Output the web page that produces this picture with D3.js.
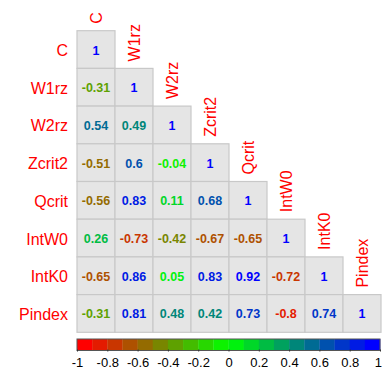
<!DOCTYPE html>
<html>
<head>
<meta charset="utf-8">
<script src="https://cdn.jsdelivr.net/npm/d3@7"></script>
<style>
  body { margin: 0; background: #fff; }
  text { font-family: "Liberation Sans", Arial, sans-serif; }
</style>
</head>
<body>
<div id="chart"></div>
<script>
var vars = ["C", "W1rz", "W2rz", "Zcrit2", "Qcrit", "IntW0", "IntK0", "Pindex"];

// lower triangle, row by row
var corrC      = [1];
var corrW1rz   = [-0.31, 1];
var corrW2rz   = [0.54, 0.49, 1];
var corrZcrit2 = [-0.51, 0.6, -0.04, 1];
var corrQcrit  = [-0.56, 0.83, 0.11, 0.68, 1];
var corrIntW0  = [0.26, -0.73, -0.42, -0.67, -0.65, 1];
var corrIntK0  = [-0.65, 0.86, 0.05, 0.83, 0.92, -0.72, 1];
var corrPindex = [-0.31, 0.81, 0.48, 0.42, 0.73, -0.8, 0.74, 1];

var barTicks = [-1, -0.8, -0.6, -0.4, -0.2, 0, 0.2, 0.4, 0.6, 0.8, 1];

var rows = [corrC, corrW1rz, corrW2rz, corrZcrit2, corrQcrit, corrIntW0, corrIntK0, corrPindex];

var width = 382;
var height = 372;

var cells = [];
rows.forEach(function(r, i) {
  r.forEach(function(v, j) {
    cells.push({row: vars[i], col: vars[j], value: v});
  });
});

// plain hyphen for negatives, like R prints them
var fmt = v => String(v);

var nBins = 20;
var ramp = d3.piecewise(d3.interpolateRgb, ["#ff0000", "#00ff00", "#0000ff"]);
var binColors = d3.range(nBins).map(i => ramp(i / (nBins - 1)));
function colorOf(v) {
  var k = Math.floor((v + 1) / 2 * nBins);
  k = Math.max(0, Math.min(nBins - 1, k));
  return binColors[k];
}

var xScale = d3.scaleBand().domain(vars).range([77, 381]);
var yScale = d3.scaleBand().domain(vars).range([30.7, 332.3]);

var svg = d3.select("#chart").append("svg")
  .attr("width", width)
  .attr("height", height);

var grid = svg.append("g");

grid.selectAll("rect")
  .data(cells).enter()
  .append("rect")
  .attr("x", d => xScale(d.col))
  .attr("y", d => yScale(d.row))
  .attr("width", xScale.bandwidth())
  .attr("height", yScale.bandwidth())
  .attr("fill", "#e5e5e5")
  .attr("stroke", "#c8c8c8")
  .attr("stroke-width", 1.2);

grid.selectAll("text.num")
  .data(cells).enter()
  .append("text")
  .attr("class", "num")
  .attr("x", d => xScale(d.col) + xScale.bandwidth() / 2)
  .attr("y", d => yScale(d.row) + yScale.bandwidth() / 2 + 1)
  .attr("text-anchor", "middle")
  .attr("dominant-baseline", "central")
  .style("font-size", "12.5px")
  .style("font-weight", "bold")
  .style("fill", d => colorOf(d.value))
  .text(d => fmt(d.value));

// row labels
svg.selectAll("text.rowlab")
  .data(vars).enter()
  .append("text")
  .attr("class", "rowlab")
  .attr("x", 68)
  .attr("y", d => yScale(d) + yScale.bandwidth() / 2 + 1)
  .attr("text-anchor", "end")
  .attr("dominant-baseline", "central")
  .style("font-size", "16px")
  .style("fill", "#ff0000")
  .text(d => d);

// column labels, above the diagonal
svg.selectAll("text.collab")
  .data(vars).enter()
  .append("text")
  .attr("class", "collab")
  .attr("transform", d => `translate(${xScale(d) + xScale.bandwidth() / 2}, ${yScale(d) - 7}) rotate(-90)`)
  .attr("text-anchor", "start")
  .attr("dominant-baseline", "central")
  .style("font-size", "16px")
  .style("fill", "#ff0000")
  .text(d => d);

// colour bar
var barScale = d3.scaleLinear().domain([-1, 1]).range([77, 380]);
var barTop = 339, barH = 11.5;
var bar = svg.append("g");

bar.selectAll("rect")
  .data(binColors).enter()
  .append("rect")
  .attr("x", (d, i) => barScale(-1 + i * 2 / nBins))
  .attr("y", barTop)
  .attr("width", barScale(-1 + 2 / nBins) - barScale(-1) + 0.3)
  .attr("height", barH)
  .attr("fill", d => d);

bar.append("rect")
  .attr("x", barScale(-1))
  .attr("y", barTop)
  .attr("width", barScale(1) - barScale(-1))
  .attr("height", barH)
  .attr("fill", "none")
  .attr("stroke", "#555")
  .attr("stroke-width", 1);

var barAxis = d3.axisBottom(barScale)
  .tickValues(barTicks)
  .tickSize(2)
  .tickPadding(6)
  .tickFormat(fmt);

svg.append("g")
  .attr("transform", `translate(0, ${barTop + barH - 1})`)
  .call(barAxis)
  .call(g => g.select(".domain").remove())
  .call(g => g.selectAll("line").attr("stroke", "#333"))
  .call(g => g.selectAll("text")
    .style("font-size", "13px")
    .style("font-family", "Liberation Sans, Arial, sans-serif")
    .attr("fill", "#000"))
  .call(g => g.selectAll(".tick").filter(d => d === 1).select("text")
    .attr("text-anchor", "end")
    .attr("dx", 1.5));
</script>
</body>
</html>
